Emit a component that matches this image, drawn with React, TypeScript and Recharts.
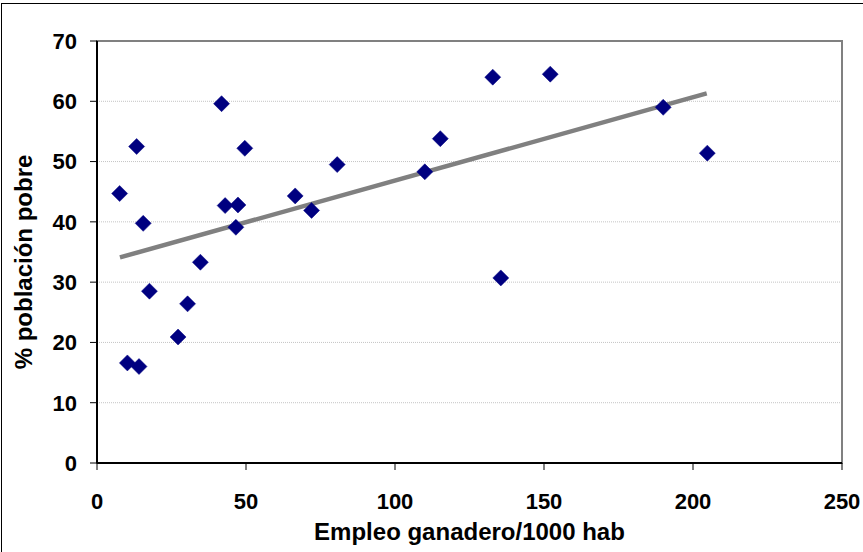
import React from "react";
import {
  ScatterChart,
  Scatter,
  XAxis,
  YAxis,
  CartesianGrid,
  ReferenceArea,
} from "recharts";

// Empleo ganadero / 1000 hab
const empleoGanadero = [
  7.6, 13.3, 10.2, 14.1, 15.5, 17.6, 27.2, 30.4, 34.7, 41.8, 43.0, 47.3,
  46.6, 49.6, 66.5, 72.0, 80.6, 110.0, 115.2, 132.8, 135.5, 152.1, 190.0, 204.8,
];
// % población pobre
const poblacionPobre = [
  44.7, 52.5, 16.6, 16.0, 39.75, 28.5, 20.9, 26.4, 33.3, 59.6, 42.7, 42.8,
  39.1, 52.2, 44.3, 41.9, 49.5, 48.3, 53.8, 64.0, 30.7, 64.5, 59.0, 51.4,
];
// trend line endpoints
const trendX = [7.7, 204.6];
const trendY = [34.1, 61.3];

const xTicks = [0, 50, 100, 150, 200, 250];
const yTicks = [0, 10, 20, 30, 40, 50, 60, 70];

const points = empleoGanadero.map((x, i) => ({ x, y: poblacionPobre[i] }));
const trend = trendX.map((x, i) => ({ x, y: trendY[i] }));

const FONT = "'Liberation Sans', Arial, Helvetica, sans-serif";

const Diamond = (props: any) => {
  const { cx, cy } = props;
  if (cx == null || cy == null) return null;
  const r = 8;
  return (
    <polygon
      points={`${cx},${cy - r} ${cx + r},${cy} ${cx},${cy + r} ${cx - r},${cy}`}
      fill="#000080"
      stroke="#000080"
      strokeWidth={0.5}
    />
  );
};

const NoShape = () => null;

export default function App() {
  return (
    <div style={{ position: "absolute", left: 0, top: 0, width: 863, height: 552, background: "#fff" }}>
      <ScatterChart
        width={863}
        height={552}
        margin={{ top: 41, right: 21, bottom: 0, left: 0 }}
      >
        <CartesianGrid
          horizontal={true}
          vertical={false}
          stroke="#c4c4c4"
          strokeDasharray="1 1"
        />
        <ReferenceArea
          x1={0}
          x2={250}
          y1={0}
          y2={70}
          fill="none"
          fillOpacity={0}
          stroke="#808080"
          strokeWidth={2}
          ifOverflow="visible"
        />
        <XAxis
          type="number"
          dataKey="x"
          domain={[0, 250]}
          ticks={xTicks}
          interval={0}
          height={89}
          tickSize={7}
          tickMargin={23}
          axisLine={{ stroke: "#000", strokeWidth: 2 }}
          tickLine={{ stroke: "#000", strokeWidth: 1 }}
          tick={{ fill: "#000", fontSize: 22, fontWeight: "bold", fontFamily: FONT }}
          label={{
            content: (p: any) => {
              const vb = p.viewBox;
              return (
                <text
                  x={vb.x + vb.width / 2}
                  y={vb.y + vb.height - 12}
                  textAnchor="middle"
                  fill="#000"
                  fontSize={24}
                  fontWeight="bold"
                  fontFamily={FONT}
                >
                  Empleo ganadero/1000 hab
                </text>
              );
            },
          }}
        />
        <YAxis
          type="number"
          dataKey="y"
          domain={[0, 70]}
          ticks={yTicks}
          interval={0}
          width={97}
          tickSize={7}
          tickMargin={13}
          axisLine={{ stroke: "#000", strokeWidth: 2 }}
          tickLine={{ stroke: "#000", strokeWidth: 1 }}
          tick={{ fill: "#000", fontSize: 22, fontWeight: "bold", fontFamily: FONT }}
          label={{
            content: (p: any) => {
              const vb = p.viewBox;
              const cx = 32;
              const cy = vb.y + vb.height / 2 + 10;
              return (
                <text
                  x={cx}
                  y={cy}
                  transform={`rotate(-90 ${cx} ${cy})`}
                  textAnchor="middle"
                  fill="#000"
                  fontSize={24}
                  fontWeight="bold"
                  fontFamily={FONT}
                >
                  % población pobre
                </text>
              );
            },
          }}
        />
        <Scatter
          data={trend}
          line={{ stroke: "#808080", strokeWidth: 4.5 }}
          shape={NoShape}
          isAnimationActive={false}
        />
        <Scatter data={points} shape={Diamond} isAnimationActive={false} />
      </ScatterChart>
      <div
        style={{
          position: "absolute",
          left: 1,
          top: 3,
          width: 862,
          height: 549,
          boxSizing: "border-box",
          borderTop: "1.5px solid #000",
          borderLeft: "1.5px solid #000",
          pointerEvents: "none",
        }}
      />
    </div>
  );
}
